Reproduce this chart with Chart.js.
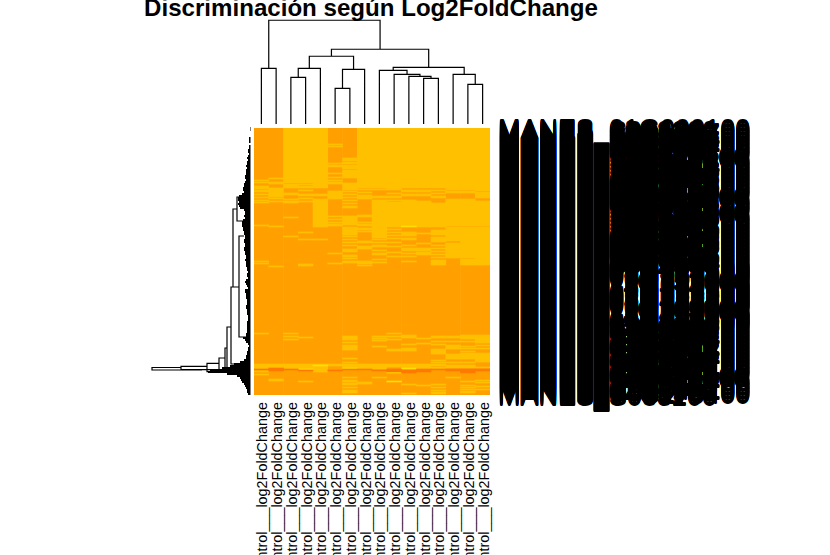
<!DOCTYPE html>
<html>
<head>
<meta charset="utf-8">
<title>Discriminación según Log2FoldChange</title>
<script src="https://cdn.jsdelivr.net/npm/chart.js@4"></script>
<style>
    html, body { margin: 0; background: #fff; overflow: hidden; }
    canvas { display: block; }
</style>
</head>
<body>
<canvas id="heatmap" width="830" height="555"></canvas>
<script>
const titulo = 'Discriminación según Log2FoldChange';
const colLabels = Array(16).fill('Control___log2FoldChange');

// lista de genes
const rowLabels = [
    'MANES_01G000100','MANES_S082300','MANES_02G145700','MANES_S035600','MANES_03G027400','MANES_S068900','MANES_05G310700','MANES_S029500',
    'MANES_07G047400','MANES_S053800','MANES_08G170700','MANES_S096200','MANES_09G124700','MANES_S028800','MANES_11G074300','MANES_S065900',
    'MANES_13G071200','MANES_S082500','MANES_14G047400','MANES_S039600','MANES_15G124300','MANES_S058200','MANES_17G074700','MANES_S093800',
    'MANES_18G094600','MANES_S026500','MANES_01G241700','MANES_S089300','MANES_02G074500','MANES_S052800','MANES_03G174300','MANES_S036900',
    'MANES_05G048900','MANES_S068200','MANES_06G117300','MANES_S095300','MANES_07G024800','MANES_S082600','MANES_09G047200','MANES_S038500',
    'MANES_10G137600','MANES_S059300','MANES_11G147900','MANES_S026800','MANES_13G174500','MANES_S093200','MANES_14G007200','MANES_S085600',
    'MANES_15G047800','MANES_S032900','MANES_17G147500','MANES_S068300','MANES_18G027100','MANES_S052600','MANES_01G074900','MANES_S098500',
    'MANES_03G147600','MANES_S025800','MANES_04G097500','MANES_S063200','MANES_05G074100','MANES_S089600','MANES_07G174300','MANES_S035800',
    'MANES_08G047500','MANES_S096500','MANES_10G074400','MANES_S082900',
    'MANES_01G002100','MANES_02G103200','MANES_03G210600','MANES_05G322800','MANES_06G030900','MANES_08G125300','MANES_09G260100','MANES_10G101500',
    'MANES_11G152600','MANES_12G086300','MANES_13G051900','MANES_15G130200','MANES_16G028600','MANES_18G096100','MANES_01G238500','MANES_02G015900',
    'MANES_03G091200','MANES_05G163600','MANES_06G082300','MANES_08G029100','MANES_09G138500','MANES_10G065800','MANES_11G203900','MANES_12G119600',
    'MANES_13G002500','MANES_15G083100','MANES_16G109800','MANES_18G035200','MANES_01G056900','MANES_02G261300','MANES_03G128600',
    'MANES_S036200','MANES_04G147700','MANES_S058900','MANES_07G247100','MANES_S082600','MANES_14G170400','MANES_S095300','MANES_17G147700',
    'MANES_S028500','MANES_04G407700','MANES_S069800','MANES_07G074400','MANES_S035200','MANES_14G174700','MANES_S086900','MANES_17G044400',
    'MANES_S052300','MANES_04G274700','MANES_S098600','MANES_14G104700','MANES_S023800','MANES_17G077400','MANES_S065200','MANES_04G147400',
    'MANES_S089500','MANES_07G114700','MANES_S036800','MANES_14G074400','MANES_S092600','MANES_17G247700','MANES_S058300','MANES_07G044700',
    'MANES_S025900','MANES_04G170400','MANES_S083200'
];

// filas de color ámbar por columna [desde, hasta]
const amberBands = [
    [[52,53],[54,55],[58,61],[62,64],[66,67],[69,70],[72,73],[74,75],[97,98],[133,134],[135,136],[205,206],[236,241],[242,244],[246,247]],
    [[50,51],[54,56],[60,69],[70,71],[73,74],[98,99],[138,139],[236,240],[251,253]],
    [[0,55],[56,60],[65,67],[71,72],[73,75],[89,90],[108,109],[205,206],[208,209],[211,212],[236,241]],
    [[0,55],[56,57],[58,60],[62,63],[66,68],[70,71],[73,74],[104,105],[111,112],[136,138],[209,210],[236,241],[253,254]],
    [[0,60],[66,68],[71,99],[111,112],[236,244]],
    [[16,17],[18,19],[35,36],[37,39],[45,46],[49,50],[52,53],[54,56],[63,71],[88,89],[91,92],[94,95],[96,98],[125,126],[135,136],[236,238]],
    [[30,33],[34,36],[37,41],[42,50],[55,62],[63,64],[66,67],[69,70],[72,73],[75,76],[78,80],[88,97],[99,107],[108,109],[111,112],[114,115],[117,118],[121,124],[127,129],[130,131],[133,135],[208,212],[214,215],[217,222],[230,231],[234,235],[236,241],[249,250],[252,254],[255,257],[259,260],[262,265]],
    [[0,60],[61,62],[64,65],[67,71],[87,89],[94,95],[96,98],[100,102],[103,104],[113,115],[118,121],[133,136],[137,138],[236,241],[254,256]],
    [[0,60],[61,62],[68,70],[72,110],[111,112],[114,115],[117,119],[122,123],[125,127],[131,132],[134,135],[208,209],[210,211],[212,213],[218,219],[236,241],[249,250]],
    [[0,62],[65,66],[68,70],[72,73],[74,99],[101,102],[104,105],[107,108],[110,111],[114,115],[118,119],[124,125],[128,129],[205,206],[208,209],[211,212],[221,223],[236,239]],
    [[0,60],[62,64],[66,68],[72,98],[104,108],[110,112],[117,118],[120,123],[125,126],[128,129],[133,134],[207,210],[216,217],[220,223],[236,241],[256,257],[265,266]],
    [[0,60],[62,64],[66,68],[73,99],[105,106],[115,116],[120,123],[124,127],[210,211],[215,216],[236,241],[257,258]],
    [[0,60],[62,63],[65,66],[68,70],[75,99],[102,107],[109,114],[117,118],[120,121],[123,124],[126,127],[129,130],[132,137],[208,210],[213,214],[216,217],[221,226],[232,233],[234,235],[236,238],[239,241],[256,257],[259,260],[262,263],[264,266]],
    [[0,62],[63,65],[71,98],[99,113],[115,130],[208,210],[213,214],[217,221],[226,231],[234,235],[237,240],[249,250]],
    [[0,62],[63,65],[71,98],[99,130],[131,137],[207,211],[213,214],[218,219],[220,221],[223,224],[225,231],[234,235],[237,240],[253,254],[257,258],[259,260],[261,262],[263,265]],
    [[0,63],[64,70],[73,98],[99,137],[207,215],[217,218],[220,221],[225,234],[239,240],[252,253],[254,255],[258,259],[261,262]]
];

// filas más intensas [columna, desde, hasta]
const darkBands = [
    [0,241,242],[1,240,243],[2,241,242],[3,242,243],[5,242,243],[6,241,242],[7,241,242],[8,242,243],
    [9,241,244],[10,242,245],[11,241,244],[12,241,242],[13,241,243],[14,241,245],[15,241,243]
];
const yellowBands = [[3,241,242],[4,237,238],[6,240,241],[9,244,245],[9,253,254],[10,98,99],[10,240,241]];

// dendrograma de columnas, estilo hclust: negativo = hoja, positivo = fusión previa
const colMergeA = [-6,-15,-12,-3,-11,-10,-14,-9,1,4,-1,8,10,13,11];
const colMergeB = [-7,-16,-13,-4,3,5,2,6,-8,-5,-2,7,9,12,14];
const colHeight = [35.7,39.7,45.7,46.7,47.7,49.7,49.7,53.7,54.7,55.7,55.7,56.7,67.7,74.7,103.7];

// dendrograma de filas: ramas grandes
const branchRowTop = [239.5,238.3,235.3,230,220,199,159,81,108,69];
const branchRowBot = [242,241.7,243.7,244,244,244,236,159,209,93];
const branchDist   = [100,71,45,33,27,25,21,19,13,15];
const branchDistTop = [71,45,33,27,25,21,19,15,8,8];
const branchDistBot = [50,42,22,15,12,10,5,13,6,9];

// longitud de las hojas, una cada dos filas
const leafDist = [
    1,1,2,2,2,3,3,3,2,3,3,
    4,4,3,4,5,4,5,5,6,5,6,6,
    6,7,7,6,7,8,8,9,9,8,10,
    13,14,14,13,14,13,12,
    8,7,7,8,7,9,10,10,
    10,9,9,8,8,7,7,8,8,7,7,8,8,7,7,6,6,
    7,6,6,6,5,5,4,5,5,4,6,7,6,5,4,
    7,7,6,6,6,5,5,5,6,6,5,5,5,4,4,4,5,5,
    5,5,5,5,6,6,9,7,6,
    4,3,4,4,5,5,6,6,8,
    12,18,22,30,42,44,25,15,12,11,10,8,7,6,5,5,4
];

const naranja = '#FFA000';
const ambar = '#FFC000';
const oscuro = '#FF7800';
const amarillo = '#FFE000';
const FILAS = 267;

const gap = { x: NaN, y: NaN };

const celdasAmbar = amberBands.flatMap((bandas, c) => bandas.map(b => ({ x: c, y: b })));
const celdasBase = colLabels.map((_, c) => ({ x: c, y: [0, FILAS] }));
const celdasOscuras = darkBands.map(b => ({ x: b[0], y: [b[1], b[2]] }));
const celdasAmarillas = yellowBands.map(b => ({ x: b[0], y: [b[1], b[2]] }));

// recorre las fusiones y arma el árbol superior
const arbolColumnas = () => {
    const nodos = [];
    const puntos = [];
    const nodo = id => id < 0 ? { x: -id - 1, h: 0 } : nodos[id - 1];
    colHeight.forEach((h, i) => {
        const a = nodo(colMergeA[i]);
        const b = nodo(colMergeB[i]);
        puntos.push({ x: a.x, y: a.h }, { x: a.x, y: h }, { x: b.x, y: h }, { x: b.x, y: b.h }, gap);
        nodos.push({ x: (a.x + b.x) / 2, h });
    });
    return puntos;
};

const arbolFilas = () => {
    const puntos = [];
    branchDist.forEach((d, i) => {
        puntos.push(
            { x: branchDistTop[i], y: branchRowTop[i] }, { x: d, y: branchRowTop[i] },
            { x: d, y: branchRowBot[i] }, { x: branchDistBot[i], y: branchRowBot[i] }, gap
        );
    });
    return puntos;
};

const hojasFilas = () => leafDist.flatMap((d, i) => [{ x: d, y: i * 2 }, { x: 1.5, y: i * 2 }, gap]);

const barra = (data, color) => ({
    type: 'bar',
    data,
    backgroundColor: color,
    xAxisID: 'x',
    yAxisID: 'y',
    grouped: false,
    barPercentage: 1,
    categoryPercentage: 1
});

const linea = (data, ancho, xAxisID, yAxisID) => ({
    type: 'line',
    data,
    borderColor: '#000',
    borderWidth: ancho,
    pointRadius: 0,
    tension: 0,
    spanGaps: false,
    clip: false,
    xAxisID,
    yAxisID
});

// lienzo opaco: el texto sale con el mismo suavizado del original
const canvas = document.getElementById('heatmap');
canvas.getContext('2d', { alpha: false });
const ajustes = {
    id: 'ajustes',
    // las etiquetas de fila pasan del margen derecho reservado
    afterLayout(chart) {
        chart.scales.y.right = chart.width;
    },
    beforeDraw(chart) {
        chart.ctx.save();
        chart.ctx.fillStyle = '#fff';
        chart.ctx.fillRect(0, 0, chart.width, chart.height);
        chart.ctx.restore();
    }
};

new Chart(canvas, {
    plugins: [ajustes],
    data: {
        datasets: [
            linea(arbolColumnas(), 1.2, 'x', 'yh'),
            linea(arbolFilas(), 1.2, 'xh', 'y'),
            linea(hojasFilas(), 2, 'xh', 'y'),
            barra(celdasOscuras, oscuro),
            barra(celdasAmarillas, amarillo),
            barra(celdasAmbar, ambar),
            barra(celdasBase, naranja)
        ]
    },
    options: {
        responsive: false,
        animation: false,
        events: [],
        // el título se centra sobre el heatmap: caja de 0 a 742
        layout: { padding: { right: 88 } },
        plugins: {
            legend: { display: false },
            tooltip: { enabled: false },
            title: {
                display: true,
                text: titulo,
                color: '#000',
                font: { family: 'Liberation Sans', size: 24.1, weight: 'bold', lineHeight: 0.8 },
                padding: { top: 0, bottom: 108.7 }
            }
        },
        scales: {
            x: {
                type: 'linear',
                position: 'bottom',
                offset: false,
                min: -0.5,
                max: 15.5,
                grid: { display: false, drawTicks: false, offset: false },
                border: { display: false },
                afterBuildTicks: s => { s.ticks = colLabels.map((_, i) => ({ value: i })); },
                afterFit: s => { s.height = 160; s.paddingLeft = 0; s.paddingRight = 0; },
                ticks: {
                    autoSkip: false,
                    minRotation: 90,
                    maxRotation: 90,
                    padding: 7,
                    labelOffset: 2,
                    color: '#000',
                    font: { family: 'Liberation Sans', size: 14.4 },
                    callback: (v, i) => colLabels[i]
                }
            },
            y: {
                type: 'linear',
                position: 'right',
                reverse: true,
                min: 0,
                max: FILAS,
                grid: { display: false, drawTicks: false },
                border: { display: false },
                // cada etiqueta se repite cuatro veces en sus dos filas, desde la fila 3
                afterBuildTicks: s => {
                    s.ticks = rowLabels.flatMap((_, i) => [
                        { value: 3 + i * 2 }, { value: 3.5 + i * 2 }, { value: 4 + i * 2 }, { value: 4.5 + i * 2 }
                    ]);
                },
                afterFit: s => { s.width = 252; s.paddingTop = 0; s.paddingBottom = 0; },
                ticks: {
                    autoSkip: false,
                    padding: 8,
                    color: '#000',
                    font: { family: 'Liberation Sans', size: 27 },
                    callback: (v, i) => rowLabels[Math.floor(i / 4)]
                }
            },
            // reserva el margen izquierdo donde va el árbol de filas
            margen: {
                type: 'linear',
                position: 'left',
                grid: { display: false, drawTicks: false },
                border: { display: false },
                ticks: { display: false },
                afterFit: s => { s.width = 254; }
            },
            // distancia del árbol de filas: crece hacia la izquierda
            xh: { type: 'linear', display: false, reverse: true, min: -238, max: -2 },
            // altura del árbol de columnas: crece hacia arriba
            yh: { type: 'linear', display: false, min: -271, max: -4 }
        }
    }
});
</script>
</body>
</html>
